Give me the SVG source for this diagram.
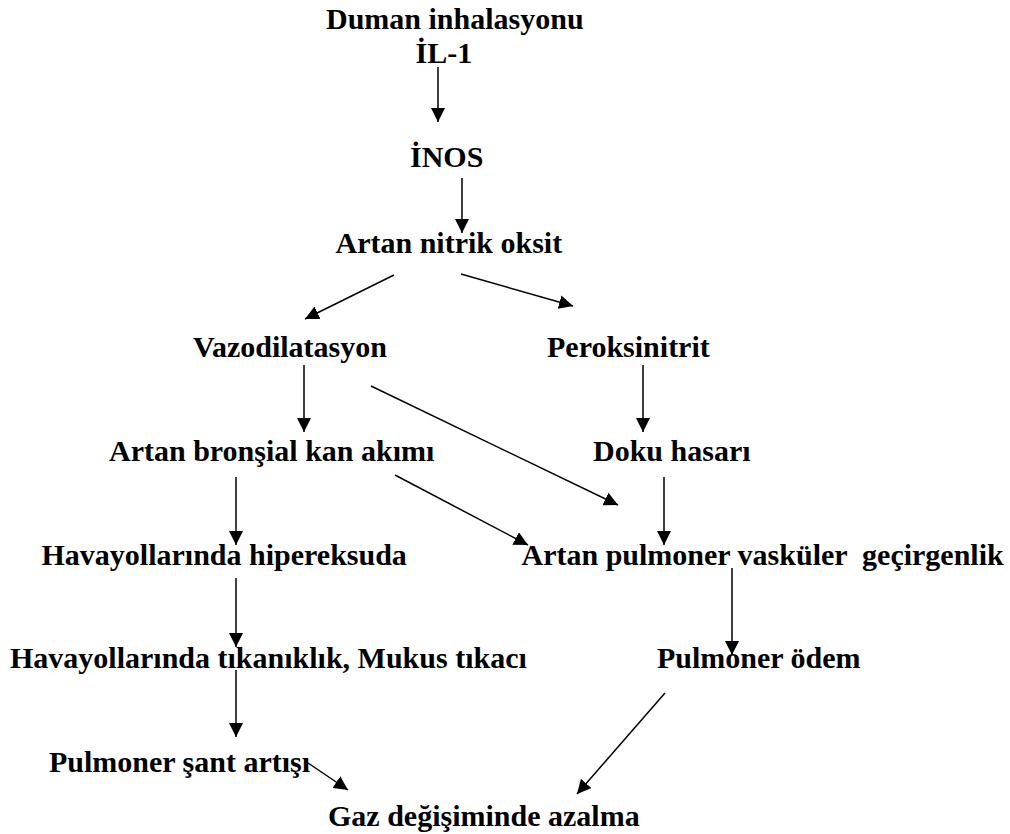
<svg xmlns="http://www.w3.org/2000/svg" width="1010" height="834" viewBox="0 0 1010 834">
<style>
  .t { font-family: "Liberation Serif", "Times New Roman", serif; font-weight: bold; font-size: 30px; fill: #000; white-space: pre; }
  .c { stroke: #000; stroke-width: 1.5; fill: none; marker-end: url(#ah); }
</style>
<defs>
  <marker id="ah" viewBox="0 0 14 14" refX="14" refY="7" markerWidth="14" markerHeight="14" markerUnits="userSpaceOnUse" orient="auto">
    <path d="M0,0 L14,7 L0,14 z" fill="#000"/>
  </marker>
</defs>
<rect width="1010" height="834" fill="#fff"/>
<g id="connectors">
  <line class="c" x1="438" y1="67" x2="438" y2="122"/>
  <line class="c" x1="462" y1="178" x2="462" y2="233"/>
  <line class="c" x1="394" y1="275" x2="305" y2="319"/>
  <line class="c" x1="461" y1="274" x2="573" y2="306"/>
  <line class="c" x1="304" y1="365" x2="304" y2="432"/>
  <line class="c" x1="643" y1="365" x2="643" y2="432"/>
  <line class="c" x1="371" y1="386" x2="618" y2="505"/>
  <line class="c" x1="236" y1="477" x2="236" y2="545"/>
  <line class="c" x1="395" y1="475" x2="528" y2="545"/>
  <line class="c" x1="664" y1="477" x2="664" y2="545"/>
  <line class="c" x1="236" y1="578" x2="236" y2="647"/>
  <line class="c" x1="732" y1="568" x2="732" y2="655"/>
  <line class="c" x1="236" y1="670" x2="236" y2="737"/>
  <line class="c" x1="665" y1="693" x2="577" y2="794"/>
  <line class="c" x1="308" y1="763" x2="348" y2="790"/>
</g>
<g id="n-duman"><text class="t" x="326" y="29">Duman inhalasyonu</text></g>
<g id="n-il1"><text class="t" x="415.5" y="63">İL-1</text></g>
<g id="n-inos"><text class="t" x="410" y="167">İNOS</text></g>
<g id="n-nitrik"><text class="t" x="335.5" y="253">Artan nitrik oksit</text></g>
<g id="n-vazo"><text class="t" x="193" y="357">Vazodilatasyon</text></g>
<g id="n-perok"><text class="t" x="547" y="357">Peroksinitrit</text></g>
<g id="n-bronsial"><text class="t" x="109" y="461">Artan bronşial kan akımı</text></g>
<g id="n-doku"><text class="t" x="593" y="461">Doku hasarı</text></g>
<g id="n-hiper"><text class="t" x="41.5" y="565">Havayollarında hipereksuda</text></g>
<g id="n-gecirgenlik"><text class="t" x="521.5" y="565">Artan pulmoner vasküler  geçirgenlik</text></g>
<g id="n-tikaniklik"><text class="t" x="10" y="668">Havayollarında tıkanıklık, Mukus tıkacı</text></g>
<g id="n-odem"><text class="t" x="657" y="668">Pulmoner ödem</text></g>
<g id="n-sant"><text class="t" x="49" y="772">Pulmoner şant artışı</text></g>
<g id="n-gaz"><text class="t" x="328" y="826">Gaz değişiminde azalma</text></g>
</svg>
